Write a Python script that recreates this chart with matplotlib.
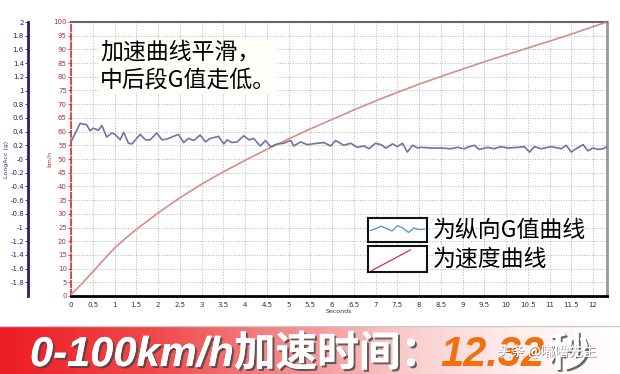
#0-100km/h acceleration chart: speed curve + longitudinal G curve, with banner
import numpy as np
import matplotlib.pyplot as plt
import matplotlib.patheffects as pe
from matplotlib.colors import LinearSegmentedColormap

# speed curve (km/h) vs time (s)
speed_time = [0, 0.25, 0.5, 0.75, 1, 1.25, 1.5, 2, 2.5, 3, 3.5, 4, 4.5, 5, 5.5, 6, 6.5,
              7, 7.5, 8, 8.5, 9, 9.5, 10, 10.5, 11, 11.5, 12, 12.32]
speed_kmh = [0.5, 4.5, 8.8, 13.2, 17.5, 21, 24.3, 30.3, 35.8, 40.8, 45.3, 49.5, 53.5, 57.3,
             61, 64.4, 67.9, 71.2, 74.3, 77.3, 80.1, 82.8, 85.5, 88, 90.5, 93, 95.6, 98.3, 100]

# longitudinal acceleration (g) vs time (s)
g_time = [0.00, 0.21, 0.36, 0.44, 0.51, 0.63, 0.71, 0.82, 0.94, 1.01, 1.13, 1.21, 1.32,
          1.40, 1.59, 1.71, 1.82, 1.97, 2.09, 2.20, 2.47, 2.59, 2.70, 2.82, 2.97, 3.09,
          3.20, 3.39, 3.51, 3.59, 3.70, 3.82, 3.97, 4.09, 4.20, 4.35, 4.47, 4.59, 4.74,
          4.89, 5.05, 5.12, 5.28, 5.43, 5.66, 5.81, 5.97, 6.08, 6.27, 6.43, 6.58, 6.74,
          6.85, 7.00, 7.12, 7.24, 7.39, 7.50, 7.62, 7.73, 7.85, 7.97, 8.05, 8.27, 8.50,
          8.73, 8.89, 9.04, 9.15, 9.27, 9.38, 9.58, 9.73, 9.88, 10.04, 10.27, 10.42,
          10.54, 10.65, 10.81, 11.04, 11.27, 11.38, 11.50, 11.61, 11.77, 11.88, 12.00,
          12.11, 12.23, 12.32]
g_value = [0.25, 0.52, 0.50, 0.41, 0.45, 0.42, 0.49, 0.32, 0.38, 0.36, 0.28, 0.39, 0.23,
           0.22, 0.36, 0.28, 0.28, 0.38, 0.28, 0.29, 0.36, 0.24, 0.30, 0.27, 0.35, 0.25,
           0.30, 0.33, 0.22, 0.28, 0.24, 0.25, 0.34, 0.28, 0.30, 0.19, 0.27, 0.18, 0.22,
           0.23, 0.27, 0.19, 0.25, 0.21, 0.23, 0.24, 0.19, 0.27, 0.20, 0.23, 0.17, 0.19,
           0.15, 0.23, 0.21, 0.16, 0.22, 0.18, 0.23, 0.10, 0.20, 0.16, 0.17, 0.16, 0.16,
           0.15, 0.17, 0.15, 0.18, 0.20, 0.14, 0.17, 0.15, 0.18, 0.16, 0.17, 0.18,
           0.10, 0.18, 0.15, 0.18, 0.15, 0.20, 0.10, 0.15, 0.21, 0.12, 0.16,
           0.14, 0.15, 0.18]

# little sample glyphs drawn inside the legend boxes
legend_wave = [0.48, 0.56, 0.66, 0.56, 0.46, 0.68, 0.58, 0.4, 0.58, 0.52, 0.54]
legend_ramp = [0.05, 0.85]

x_ticks = np.arange(0, 12.01, 0.5)
speed_ticks = np.arange(0, 101, 5)
g_ticks = np.round(np.arange(-1.8, 2.01, 0.2), 1)

note_text = "加速曲线平滑，\n中后段G值走低。"
legend_labels = ["为纵向G值曲线", "为速度曲线"]
banner_main = "0-100km/h加速时间："
banner_time = "12.32"
banner_unit = "秒"
watermark = "头条 @嘟噜先生"

W, H = 620, 374
fig = plt.figure(figsize=(W / 100, H / 100), dpi=100)
fig.patch.set_facecolor("white")


def fx(x):
    return x / W


def fy(y):
    return 1 - y / H


cjk = ["Noto Sans CJK SC", "DejaVu Sans"]

ax = fig.add_axes([fx(71), fy(296), fx(607) - fx(71), fy(22) - fy(296)])
ax.plot(speed_time, speed_kmh, color="#d98c86", lw=1.2, zorder=3)
ax.set_xlim(0, 12.32)
ax.set_ylim(0, 100)
ax.set_xticks(x_ticks)
ax.set_xticklabels(["{:g}".format(t) for t in x_ticks])
ax.set_yticks(speed_ticks)
ax.tick_params(axis="x", labelsize=5, length=0, pad=4, colors="#333333")
ax.tick_params(axis="y", labelsize=5, length=2, pad=1, colors="#c03030", width=0.6)
ax.set_xlabel("Seconds", fontsize=4.5, labelpad=1, color="#333333")
ax.set_ylabel("km/h", fontsize=4.5, labelpad=1, color="#c03030")
ax.grid(True, linestyle=":", color="#b5b5b5", lw=0.7)
ax.set_axisbelow(True)
ax.spines["left"].set_color("#d03030")
ax.spines["left"].set_linestyle("--")
ax.spines["left"].set_linewidth(1.2)
ax.spines["top"].set_color("#666666")
ax.spines["top"].set_linewidth(1.5)
ax.spines["right"].set_color("#999999")
ax.spines["right"].set_linewidth(2)
ax.spines["bottom"].set_color("black")
ax.spines["bottom"].set_linewidth(2)

ax2 = ax.twinx()
ax2.plot(g_time, g_value, color="#6e74a6", lw=1.2, zorder=2)
ax2.set_ylim(-2, 2)
ax2.yaxis.set_ticks_position("left")
ax2.yaxis.set_label_position("left")
ax2.spines["left"].set_position(("axes", -0.08))
ax2.spines["left"].set_visible(True)
ax2.spines["left"].set_color("#20207a")
ax2.spines["left"].set_linewidth(2)
for s in ["right", "top", "bottom"]:
    ax2.spines[s].set_visible(False)
ax2.set_yticks(g_ticks)
ax2.set_yticklabels(["{:g}".format(g) for g in g_ticks])
ax2.tick_params(axis="y", labelsize=5, length=2, pad=1, colors="#20207a", width=0.6)
ax2.set_ylabel("LongAcc (g)", fontsize=4.5, labelpad=1, color="#3030a0")

# note in the top left of the plot
fig.text(fx(100), fy(66), note_text, family=cjk, fontsize=16.5, color="black",
         ha="left", va="center", linespacing=1.25,
         bbox=dict(facecolor="#fffffa", edgecolor="none", pad=1))

# hand drawn style legend: each box is a tiny axes with its sample line
lax1 = fig.add_axes([fx(368), fy(242), fx(59), 24 / H])
lax1.plot(np.linspace(0.04, 0.96, len(legend_wave)), legend_wave, color="#4a90d0", lw=0.9)
lax2 = fig.add_axes([fx(368), fy(272), fx(59), 26 / H])
lax2.plot([0.06, 0.72], legend_ramp, color="#d03040", lw=0.9)
for lax in (lax1, lax2):
    lax.set_xlim(0, 1)
    lax.set_ylim(0, 1)
    lax.set_xticks([])
    lax.set_yticks([])
    for s in lax.spines.values():
        s.set_color("#111111")
        s.set_linewidth(1.5)
for lab, yc in zip(legend_labels, [230, 259]):
    fig.text(fx(433), fy(yc), lab, family=cjk, fontsize=16.5, color="black",
             ha="left", va="center")

# red to white banner at the bottom
bax = fig.add_axes([0, 0, 1, fy(326)])
cmap = LinearSegmentedColormap.from_list(
    "banner", [(0, "#ee1c24"), (0.25, "#f04a4c"), (0.48, "#f49092"),
               (0.68, "#fad2d2"), (0.85, "#fff0f0"), (1, "#ffffff")])
bax.imshow(np.linspace(0, 1, 300).reshape(1, -1), cmap=cmap, aspect="auto", extent=[0, 1, 0, 1])
bax.axhline(1, color="#c8c8c8", lw=1)
bax.set_xlim(0, 1)
bax.set_ylim(0, 1)
bax.axis("off")

shadow = [pe.withSimplePatchShadow(offset=(1.5, -1.5), shadow_rgbFace="#444444", alpha=0.8), pe.Normal()]
bfont = ["Liberation Sans", "Noto Sans CJK SC"]
fig.text(fx(30), fy(366), banner_main, family=bfont, fontsize=30, weight="heavy", style="italic",
         color="white", ha="left", va="baseline", path_effects=shadow)
fig.text(fx(440), fy(366), banner_time, family=bfont, fontsize=30, weight="heavy", style="italic",
         color="#f07010", ha="left", va="baseline")
fig.text(fx(548), fy(366), banner_unit, family=bfont, fontsize=30, weight="heavy", style="italic",
         color="white", ha="left", va="baseline", path_effects=shadow)
fig.text(fx(497), fy(352), watermark, family=cjk, fontsize=10, color="white",
         ha="left", va="center",
         path_effects=[pe.withSimplePatchShadow(offset=(0.6, -0.6), shadow_rgbFace="#333333", alpha=0.6), pe.Normal()])

fig.savefig("out.png", dpi=100)
